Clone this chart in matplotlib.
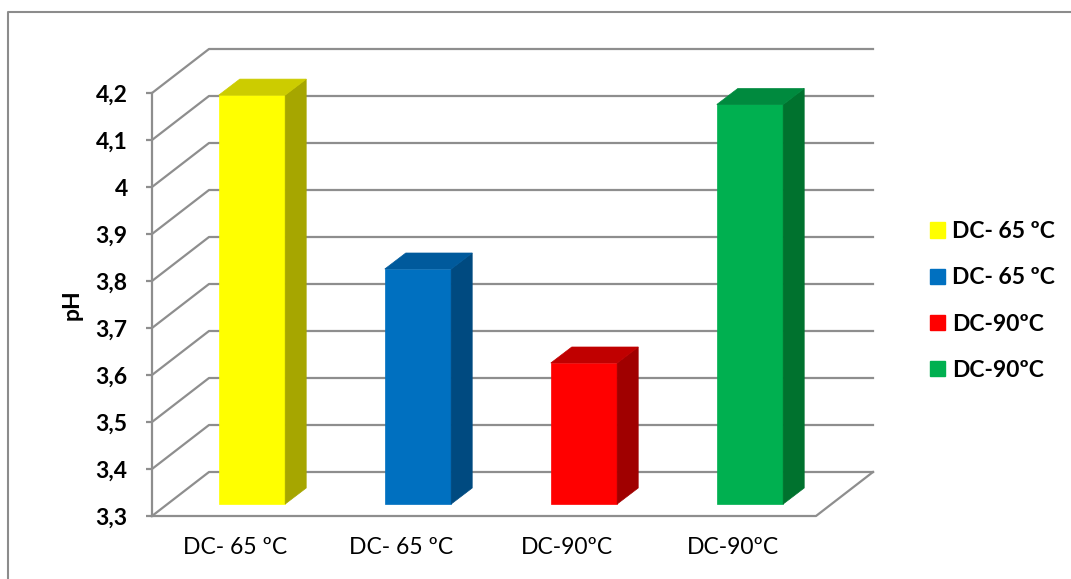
import matplotlib
matplotlib.use("Agg")
import matplotlib.pyplot as plt
from matplotlib.patches import Polygon, Patch
from matplotlib.lines import Line2D
import numpy as np

plt.rcParams['font.family'] = ['Lato', 'DejaVu Sans']

# data
categories = ["DC- 65 ºC", "DC- 65 ºC", "DC-90ºC", "DC-90ºC"]
ph_values = [4.17, 3.80, 3.60, 4.15]
front_colors = ["#FFFF00", "#0070C0", "#FF0000", "#00B050"]
top_colors = ["#CCCC00", "#005A9C", "#C00000", "#008A3E"]
side_colors = ["#A6A600", "#004A80", "#A00000", "#00722E"]
yticks = [3.3, 3.4, 3.5, 3.6, 3.7, 3.8, 3.9, 4.0, 4.1, 4.2]
ytick_labels = ["3,3", "3,4", "3,5", "3,6", "3,7", "3,8", "3,9", "4", "4,1", "4,2"]

W, H = 1071, 579
fig = plt.figure(figsize=(W / 100, H / 100), dpi=100)
# front plane of the 3d box: x 152..816 px, y 93..516 px
ax = fig.add_axes([152 / W, (H - 516) / H, 664 / W, 423 / H])
ax.set_xlim(-0.5, 3.5)
ax.set_ylim(3.3, 4.2)

ymin, ymax = 3.3, 4.2
# depth offsets in data units
wall_dx, wall_dy = 57 / 166, 44 / 470
bar_dx0, bar_dy0 = 17 / 166, 12 / 470
bar_dx, bar_dy = 21 / 166, 16 / 470
bar_w = 0.40
grid_c = "#8E8E8E"
fs = 16.5

# side wall + back wall gridlines
for t in yticks:
    ax.plot([-0.5, -0.5 + wall_dx, 3.5 + wall_dx], [t, t + wall_dy, t + wall_dy],
            color=grid_c, lw=1.6, clip_on=False, zorder=1)
# floor
ax.plot([-0.5, 3.5, 3.5 + wall_dx], [ymin, ymin, ymin + wall_dy],
        color=grid_c, lw=1.6, clip_on=False, zorder=1)

# bars
x = np.arange(len(categories))
xf = x + bar_dx0
base = ymin + bar_dy0
vals = np.array(ph_values)
ax.bar(xf, vals - ymin, bottom=base, width=bar_w, color=front_colors,
       edgecolor=front_colors, lw=0.5, zorder=3, clip_on=False)
for xi, v, tc, sc in zip(xf, vals, top_colors, side_colors):
    l, r = xi - bar_w / 2, xi + bar_w / 2
    top = v + bar_dy0
    side = Polygon([(r, base), (r + bar_dx, base + bar_dy), (r + bar_dx, top + bar_dy), (r, top)],
                   closed=True, facecolor=sc, edgecolor=sc, lw=0.5, zorder=3, clip_on=False)
    lid = Polygon([(l, top), (l + bar_dx, top + bar_dy), (r + bar_dx, top + bar_dy), (r, top)],
                  closed=True, facecolor=tc, edgecolor=tc, lw=0.5, zorder=3, clip_on=False)
    ax.add_patch(side)
    ax.add_patch(lid)

# axes styling
for s in ["top", "right", "bottom"]:
    ax.spines[s].set_visible(False)
ax.spines["left"].set_color(grid_c)
ax.spines["left"].set_linewidth(1.6)
ax.set_yticks(yticks)
ax.set_yticklabels(ytick_labels, fontsize=fs, fontweight="bold")
ax.tick_params(axis="y", length=4.5, width=1.6, color=grid_c, pad=13)
ax.set_xticks(x)
ax.set_xticklabels(categories, fontsize=fs)
ax.tick_params(axis="x", length=0, pad=15)
ax.set_ylabel("pH", fontsize=fs, fontweight="bold")
ax.yaxis.set_label_coords(-0.104, 0.5)
ax.set_facecolor("none")

# legend
handles = [Patch(facecolor=c, edgecolor=c) for c in front_colors]
fig.legend(handles, categories, loc="center left", bbox_to_anchor=(930 / W, 1 - 301 / H),
           frameon=False, prop={"size": fs, "weight": "bold"}, handlelength=0.66,
           handleheight=0.66, handletextpad=0.3, labelspacing=1.1, borderpad=0,
           borderaxespad=0)

# outer chart frame (top and left visible)
fig.add_artist(Line2D([8 / W, 8 / W, 1.0], [0.0, 1 - 12 / H, 1 - 12 / H],
                      transform=fig.transFigure, color="#8C8C8C", lw=1.5))

fig.savefig("out.png", dpi=100)
